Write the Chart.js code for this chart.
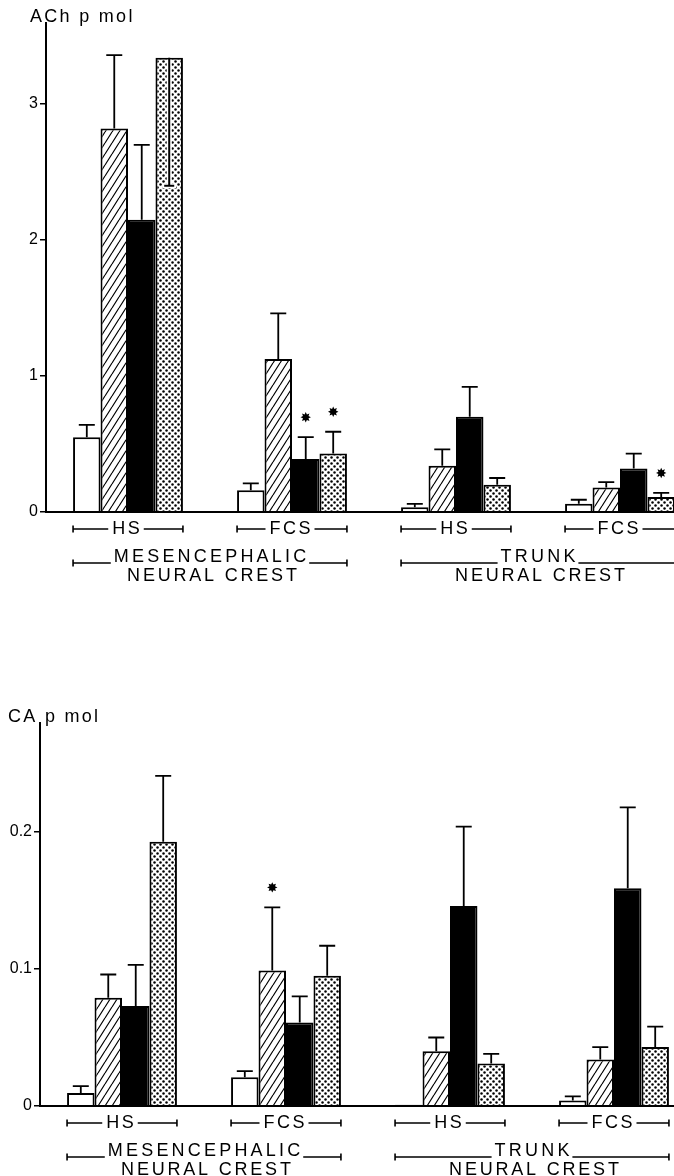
<!DOCTYPE html>
<html><head><meta charset="utf-8">
<script src="https://cdn.jsdelivr.net/npm/chart.js@4.4.1/dist/chart.umd.min.js"></script>
<style>
html,body{margin:0;padding:0;background:#fff;overflow:hidden;width:674px;height:1176px;}
#c1{position:absolute;left:0;top:0;}
#c2{position:absolute;left:0;top:600px;}
</style></head><body>
<canvas id="c1" width="702" height="600"></canvas>
<canvas id="c2" width="696" height="576"></canvas>
<script>
// ---------- data ----------
const groupLabels = ['HS', 'FCS', 'HS', 'FCS'];
const regionLabels = [['MESENCEPHALIC', 'NEURAL CREST'], ['TRUNK', 'NEURAL CREST']];
const regionSpans = [[0, 1], [2, 3]];
const seriesNames = ['open', 'hatched', 'solid', 'stippled'];

// ACh (pmol)
const achTicks = [0, 1, 2, 3];
const achOpen = [0.55, 0.16, 0.035, 0.06];
const achOpenErr = [0.09, 0.05, 0.025, 0.03];
const achHatched = [2.82, 1.125, 0.34, 0.18];
const achHatchedErr = [0.54, 0.335, 0.12, 0.04];
const achSolid = [2.15, 0.39, 0.70, 0.32];
const achSolidErr = [0.55, 0.16, 0.22, 0.11];
const achDotted = [3.34, 0.43, 0.20, 0.11];
const achDottedErr = [0.94, 0.16, 0.05, 0.03];
const achErrDown = [[3, 0]];           // [series, group] error drawn downward
const achStars = [[2, 1], [3, 1], [3, 3]];

// CA (pmol)
const caTicks = [0, 0.1, 0.2];
const caOpen = [0.0095, 0.021, 0.001, 0.004];
const caOpenErr = [0.005, 0.0045, 0, 0.003];
const caHatched = [0.079, 0.099, 0.040, 0.034];
const caHatchedErr = [0.017, 0.046, 0.010, 0.009];
const caSolid = [0.073, 0.061, 0.146, 0.159];
const caSolidErr = [0.030, 0.019, 0.058, 0.059];
const caDotted = [0.193, 0.095, 0.031, 0.043];
const caDottedErr = [0.048, 0.022, 0.007, 0.015];
const caErrDown = [];
const caStars = [[1, 1]];

// ---------- patterns ----------
function hatchPattern(ctx) {
  const w = 7, h = 11;
  const c = document.createElement('canvas'); c.width = w; c.height = h;
  const g = c.getContext('2d');
  g.fillStyle = '#fff'; g.fillRect(0, 0, w, h);
  g.strokeStyle = '#000'; g.lineWidth = 1.2;
  g.beginPath();
  for (let k = -1; k <= 1; k++) { g.moveTo(k * w, h); g.lineTo(k * w + w, 0); }
  g.stroke();
  return ctx.createPattern(c, 'repeat');
}
function dotPattern(ctx) {
  const s = 6;
  const c = document.createElement('canvas'); c.width = s; c.height = s;
  const g = c.getContext('2d');
  g.fillStyle = '#fff'; g.fillRect(0, 0, s, s);
  g.fillStyle = '#000';
  [[1.5, 1.5], [4.5, 4.5]].forEach(p => { g.beginPath(); g.arc(p[0], p[1], 1.25, 0, Math.PI * 2); g.fill(); });
  return ctx.createPattern(c, 'repeat');
}

// ---------- text helpers ----------
const LBL_FONT = "18px 'Liberation Sans'";
function spacedWidth(ctx, t, ls) { ctx.letterSpacing = ls + 'px'; return ctx.measureText(t).width - ls; }
function drawSpaced(ctx, t, x, cy, ls, align) {
  const w = spacedWidth(ctx, t, ls);
  ctx.textAlign = 'left'; ctx.textBaseline = 'middle';
  const left = align === 'left' ? x : x - w / 2;
  ctx.fillText(t, left, cy);
  return [left, left + w];
}
function starburst(ctx, x, y, ro, ri, n) {
  ctx.beginPath();
  for (let k = 0; k < 2 * n; k++) {
    const a = Math.PI * k / n - Math.PI / 2;
    const r = k % 2 ? ri : ro;
    const px = x + r * Math.cos(a), py = y + r * Math.sin(a);
    k ? ctx.lineTo(px, py) : ctx.moveTo(px, py);
  }
  ctx.closePath(); ctx.fill();
}

function makeAnnot(cfg) {
  return {
    id: 'annot',
    afterDraw(chart) {
      const ctx = chart.ctx, ys = chart.scales.y, area = chart.chartArea;
      const y0 = ys.getPixelForValue(0);
      ctx.save();
      // baseline
      ctx.strokeStyle = '#000'; ctx.lineWidth = 2;
      ctx.beginPath(); ctx.moveTo(area.left - 1, y0); ctx.lineTo(chart.width, y0); ctx.stroke();

      // error bars
      const metas = cfg.values.map((v, i) => chart.getDatasetMeta(i));
      metas.forEach((meta, i) => {
        meta.data.forEach((el, j) => {
          const v = cfg.values[i][j], e = cfg.errs[i][j];
          if (!e) return;
          const down = cfg.errDown.some(d => d[0] === i && d[1] === j);
          const yv = ys.getPixelForValue(v);
          const ye = ys.getPixelForValue(down ? v - e : v + e);
          if (down) {
            ctx.strokeStyle = '#fff'; ctx.lineWidth = 5;
            ctx.beginPath(); ctx.moveTo(el.x, yv + 2); ctx.lineTo(el.x, ye + 2);
            ctx.moveTo(el.x - 7, ye); ctx.lineTo(el.x + 7, ye); ctx.stroke();
            ctx.strokeStyle = '#000'; ctx.lineWidth = 2;
            ctx.beginPath(); ctx.moveTo(el.x, yv); ctx.lineTo(el.x, ye);
            ctx.moveTo(el.x - 5, ye); ctx.lineTo(el.x + 5, ye); ctx.stroke();
          } else {
            ctx.strokeStyle = '#000'; ctx.lineWidth = 1.8;
            ctx.beginPath(); ctx.moveTo(el.x, yv); ctx.lineTo(el.x, ye);
            ctx.moveTo(el.x - 8, ye); ctx.lineTo(el.x + 8, ye); ctx.stroke();
          }
        });
      });

      // significance stars
      ctx.fillStyle = '#000';
      cfg.stars.forEach(s => {
        const el = metas[s[0]].data[s[1]];
        const top = ys.getPixelForValue(cfg.values[s[0]][s[1]] + cfg.errs[s[0]][s[1]]);
        starburst(ctx, el.x, top - 20, 5.2, 3.0, 8);
      });

      // group brackets
      ctx.font = LBL_FONT; ctx.lineWidth = 1.6; ctx.strokeStyle = '#000';
      const bw = metas[0].data[0].width;
      const span = j => [metas[0].data[j].x - bw / 2, metas[metas.length - 1].data[j].x + bw / 2];
      const gy = y0 + 17;
      groupLabels.forEach((lab, j) => {
        const [l, r] = span(j);
        const [tl, tr] = drawSpaced(ctx, lab, (l + r) / 2 - 2, gy, 2.5);
        ctx.beginPath();
        ctx.moveTo(l, gy); ctx.lineTo(tl - 4, gy);
        ctx.moveTo(tr + 4, gy); ctx.lineTo(r, gy);
        ctx.moveTo(l, gy - 3.5); ctx.lineTo(l, gy + 3.5);
        ctx.moveTo(r, gy - 3.5); ctx.lineTo(r, gy + 3.5);
        ctx.stroke();
      });

      // region brackets
      const ry = y0 + 45, rl = y0 + 51, ry2 = y0 + 64;
      regionLabels.forEach((labs, k) => {
        const l = span(regionSpans[k][0])[0], r = span(regionSpans[k][1])[1];
        const cx = (l + r) / 2;
        const [tl, tr] = drawSpaced(ctx, labs[0], cx, ry, 3.2);
        drawSpaced(ctx, labs[1], cx + 2, ry2, 2.8);
        ctx.beginPath();
        ctx.moveTo(l, rl); ctx.lineTo(tl - 3, rl);
        ctx.moveTo(tr + 3, rl); ctx.lineTo(r, rl);
        ctx.moveTo(l, rl - 3.5); ctx.lineTo(l, rl + 3.5);
        ctx.moveTo(r, rl - 3.5); ctx.lineTo(r, rl + 3.5);
        ctx.stroke();
      });

      // axis title
      ctx.font = "18px 'Liberation Sans'";
      drawSpaced(ctx, cfg.title, cfg.titleX, cfg.titleY, 2.3, 'left');
      ctx.restore();
    }
  };
}

function makeChart(id, cfg) {
  const canvas = document.getElementById(id);
  const ctx = canvas.getContext('2d');
  const fills = ['#ffffff', hatchPattern(ctx), '#000000', dotPattern(ctx)];
  return new Chart(ctx, {
    type: 'bar',
    data: {
      labels: groupLabels,
      datasets: cfg.values.map((v, i) => ({
        label: seriesNames[i], data: v,
        backgroundColor: fills[i], borderColor: '#000', borderWidth: 2,
        borderSkipped: 'bottom', categoryPercentage: 0.67, barPercentage: 1
      }))
    },
    options: {
      responsive: false, animation: false, events: [],
      layout: { padding: { top: cfg.padTop, bottom: cfg.padBottom, left: 0, right: 0 } },
      plugins: { legend: { display: false }, tooltip: { enabled: false } },
      scales: {
        x: { type: 'category', display: false, offset: true },
        y: {
          min: 0, max: cfg.max,
          afterFit: s => { s.width = cfg.axisW; },
          afterBuildTicks: s => { s.ticks = cfg.ticks.map(v => ({ value: v })); },
          ticks: { color: '#000', font: { family: 'Liberation Sans', size: 16 }, padding: 2, callback: v => String(v) },
          grid: { drawOnChartArea: false, drawTicks: true, tickLength: 6, color: '#000', lineWidth: 1.5 },
          border: { display: true, color: '#000', width: 2 }
        }
      }
    },
    plugins: [makeAnnot(cfg)]
  });
}

makeChart('c1', {
  values: [achOpen, achHatched, achSolid, achDotted],
  errs: [achOpenErr, achHatchedErr, achSolidErr, achDottedErr],
  errDown: achErrDown, stars: achStars, ticks: achTicks,
  max: 3.596, padTop: 23, padBottom: 88, axisW: 46,
  title: 'ACh p mol', titleX: 30, titleY: 17
});
makeChart('c2', {
  values: [caOpen, caHatched, caSolid, caDotted],
  errs: [caOpenErr, caHatchedErr, caSolidErr, caDottedErr],
  errDown: caErrDown, stars: caStars, ticks: caTicks,
  max: 0.2796, padTop: 123, padBottom: 70, axisW: 40,
  title: 'CA p mol', titleX: 8, titleY: 117
});
</script>
</body></html>
